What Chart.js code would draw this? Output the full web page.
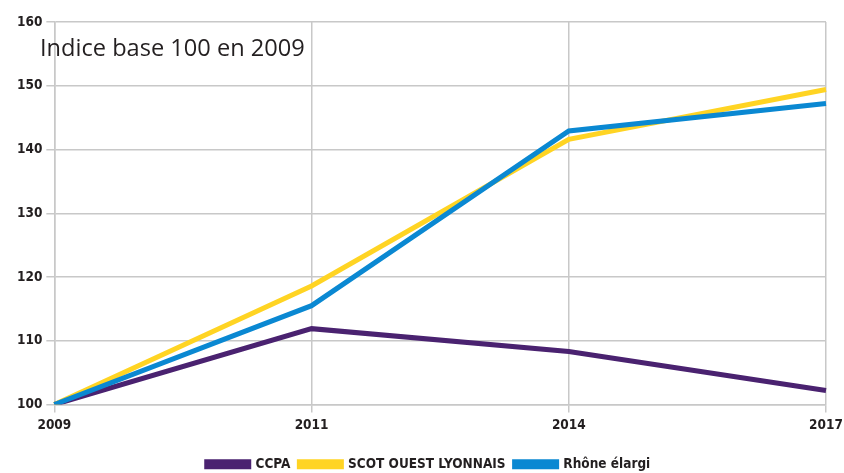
<!DOCTYPE html>
<html>
<head>
<meta charset="utf-8">
<script src="https://cdn.jsdelivr.net/npm/chart.js@4.4.1/dist/chart.umd.min.js"></script>
<style>
  html, body { margin: 0; padding: 0; background: #fff; }
  #wrap { position: relative; width: 844px; height: 473px; }
</style>
</head>
<body>
<div id="wrap"><canvas id="chart"></canvas></div>
<script>
const years = ["2009", "2011", "2014", "2017"]
const ccpa = [100, 111.9, 108.3, 102.2]
const scot = [100, 118.6, 141.6, 149.4]
const rhone = [100, 115.5, 142.9, 147.2]
const yTicks = [100, 110, 120, 130, 140, 150, 160]
const subtitle = "Indice base 100 en 2009"

const tickFont = { family: "'Liberation Sans Narrow', 'DejaVu Sans Condensed', 'Open Sans', sans-serif", size: 13.5, weight: "bold" }

// texte "Indice base 100..." posé dans la zone du graphique
const subtitlePlugin = {
  id: "subtitleText",
  afterDraw(chart) {
    const ctx = chart.ctx
    ctx.save()
    ctx.font = "23.6px 'Open Sans', sans-serif"
    ctx.fillStyle = "#231f20"
    ctx.textBaseline = "alphabetic"
    ctx.fillText(subtitle, 40, 56)
    ctx.restore()
  },
}

const ctx = document.getElementById("chart").getContext("2d")
new Chart(ctx, {
  type: "line",
  data: {
    labels: years,
    datasets: [
      { label: "CCPA", data: ccpa, borderColor: "#4a2270", backgroundColor: "#4a2270" },
      { label: "SCOT OUEST LYONNAIS", data: scot, borderColor: "#ffd423", backgroundColor: "#ffd423" },
      { label: "Rhône élargi", data: rhone, borderColor: "#0a88d2", backgroundColor: "#0a88d2" },
    ].map((d, i) => ({ ...d, borderWidth: 5, pointRadius: 0, tension: 0, fill: false, order: 3 - i })),
  },
  options: {
    responsive: true,
    maintainAspectRatio: false,
    animation: false,
    layout: { padding: { left: 13, right: 0, top: 22, bottom: -8 } },
    plugins: {
      legend: {
        position: "bottom",
        labels: {
          boxWidth: 42,
          boxHeight: 5,
          padding: 9,
          color: "#231f20",
          font: tickFont,
          sort: (a, b) => a.datasetIndex - b.datasetIndex,
        },
      },
      tooltip: { enabled: false },
    },
    scales: {
      x: {
        offset: false,
        grid: { color: "#c8c8c8", lineWidth: 1.5, tickLength: 8 },
        border: { color: "#c8c8c8", width: 1.5 },
        ticks: { color: "#231f20", font: tickFont, maxRotation: 0, padding: 5 },
        afterFit(axis) {
          axis.height = 44
          axis.paddingRight = 18
        },
      },
      y: {
        min: 100,
        max: 160,
        afterBuildTicks(axis) {
          axis.ticks = yTicks.map(v => ({ value: v }))
        },
        grid: { color: "#c8c8c8", lineWidth: 1.5, tickLength: 8 },
        border: { color: "#c8c8c8", width: 1.5 },
        ticks: { color: "#231f20", font: tickFont, padding: 4 },
      },
    },
  },
  plugins: [subtitlePlugin],
})
</script>
</body>
</html>
